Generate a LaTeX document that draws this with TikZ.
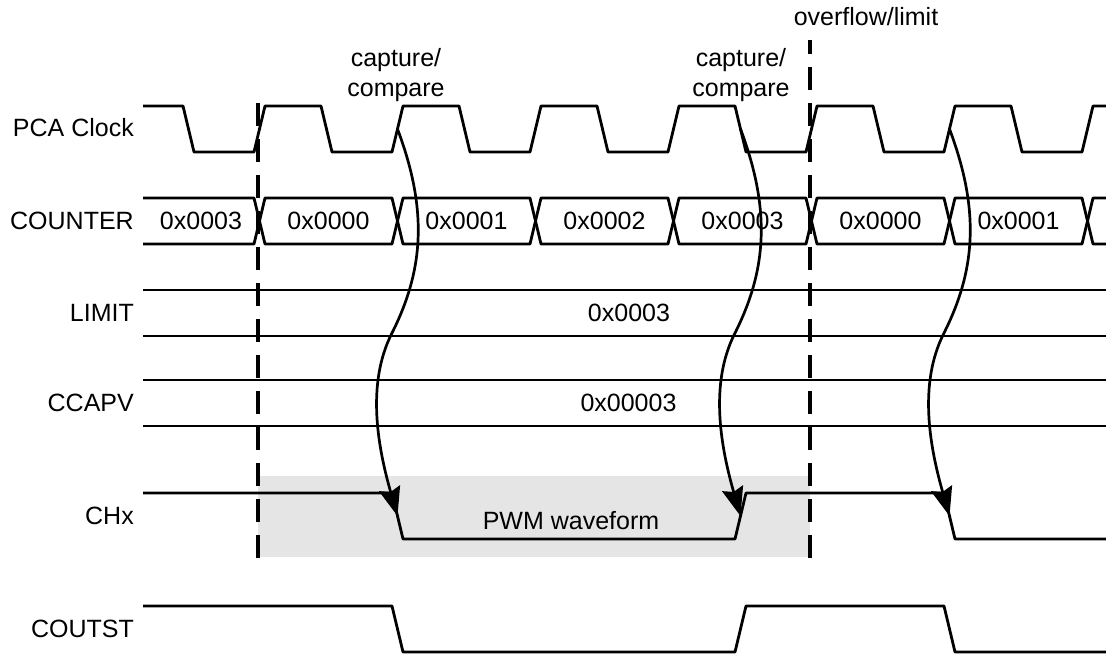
\documentclass[tikz,border=0pt]{standalone}
\usepackage{fontspec}
\setmainfont{Liberation Sans}
\usetikzlibrary{arrows.meta,calc}
\begin{document}
\begin{tikzpicture}[x=1pt,y=-1pt,
  sig/.style={line width=2.8pt,line join=round},
  lbl/.style={inner sep=0pt,font=\fontsize{25}{30}\selectfont},
  cutline/.style={line width=3.5pt,dash pattern=on 23pt off 13pt}]
\useasboundingbox (0,0) rectangle (1106,655);
\fill[black!10] (258,476) rectangle (810,557);
% signal names
\node[lbl,anchor=base east] (lclk) at (134,137) {PCA Clock};
\node[lbl,anchor=base east] (lcnt) at (134,229.6) {COUNTER};
\node[lbl,anchor=base east] (llim) at (134,321.6) {LIMIT};
\node[lbl,anchor=base east] (lcap) at (134,411.6) {CCAPV};
\node[lbl,anchor=base east] (lchx) at (134,524.6) {CHx};
\node[lbl,anchor=base east] (lcout) at (134,637.6) {COUTST};
% clock
\draw[sig] (143,106) foreach \k in {0,...,6} {
  -- ({183+138*\k},106) -- ({194+138*\k},152) -- ({254+138*\k},152) -- ({265+138*\k},106)} -- (1106,106);
% counter
\draw[sig] (143,198) -- (254,198) -- (259.5,221) -- (254,244) -- (143,244);
\foreach \k in {0,...,5}
  \draw[sig] ({259.5+138*\k},221) -- ({265+138*\k},198) -- ({392+138*\k},198) -- ({397.5+138*\k},221)
    -- ({392+138*\k},244) -- ({265+138*\k},244) -- cycle;
\draw[sig] (1106,198) -- (1093,198) -- (1087.5,221) -- (1093,244) -- (1106,244);
\node[lbl,anchor=base] (cntl) at (201,229.6) {0x0003};
\foreach \v [count=\k from 0] in {0x0000,0x0001,0x0002,0x0003,0x0000,0x0001}
  \node[lbl,anchor=base] (cnt\k) at ({328.5+138*\k},229.6) {\v};
% limit and ccapv
\draw[sig] (143,290) -- (1106,290) (143,336) -- (1106,336);
\node[lbl,anchor=base] (vlim) at (629,321.6) {0x0003};
\draw[sig] (143,380) -- (1106,380) (143,426) -- (1106,426);
\node[lbl,anchor=base] (vcap) at (628.5,411.6) {0x00003};
% outputs
\draw[sig] (143,493) -- (392,493) -- (403,539) -- (735,539) -- (746,493) -- (944,493) -- (955,539) -- (1106,539);
\draw[sig] (143,606) -- (392,606) -- (403,652) -- (735,652) -- (746,606) -- (944,606) -- (955,652) -- (1106,652);
\node[lbl,anchor=base] (pwm) at (571,529) {PWM waveform};
% markers
\draw[cutline] (258,558) -- (258,97);
\draw[cutline] (810,558) -- (810,40);
\node[lbl,align=center] (tcap1) at (396,75.5) {capture/\\compare};
\node[lbl,align=center] (tcap2) at (741,75.5) {capture/\\compare};
\node[lbl,anchor=base] (tovf) at (866,26) {overflow/limit};
% clock edge to output edge
\coordinate (ck1) at (397.5,129);
\coordinate (ck2) at (740.5,129);
\coordinate (ck3) at (949.5,129);
\coordinate (ch1) at (397.5,516);
\coordinate (ch2) at (740.5,516);
\coordinate (ch3) at (949.5,516);
\foreach \i in {1,2,3} {
  \coordinate (m\i) at ($(ck\i)+(-6,205)$);
  \draw[line width=2.7pt,-{Stealth[scale=1.9,inset=2pt]}] (ck\i) .. controls +(30,80) and +(33,-65) .. (m\i)
    .. controls +(-25,50) and +(-20,-70) .. (ch\i);
}
\end{tikzpicture}
\end{document}
